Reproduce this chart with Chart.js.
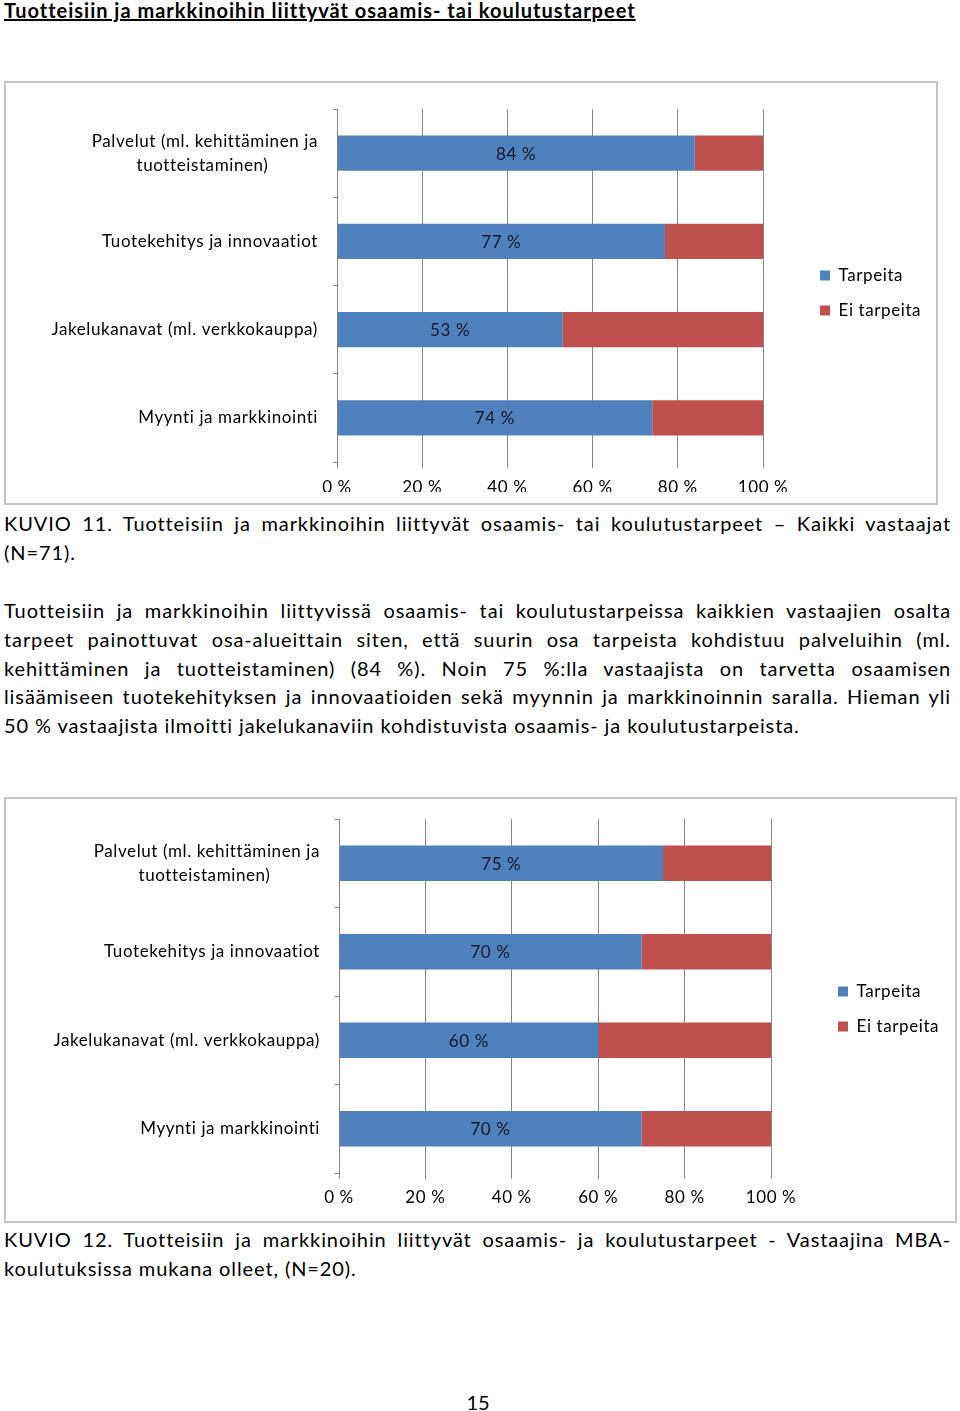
<!DOCTYPE html>
<html lang="fi">
<head>
<meta charset="utf-8">
<script src="https://cdn.jsdelivr.net/npm/chart.js@4.4.1/dist/chart.umd.min.js"></script>
<style>
  html, body { margin: 0; padding: 0; background: #fff; }
  body { position: relative; width: 960px; height: 1411px; font-family: Lato, "Open Sans", sans-serif; color: #000; }
  .abs { position: absolute; }
  .title { left: 4px; top: 0; font-size: 20px; font-weight: bold; line-height: 21px; letter-spacing: 1px; text-decoration: underline; }
  .para { left: 4px; width: 947px; font-size: 20px; letter-spacing: 0.9px; }
  .para div { text-align: justify; text-align-last: justify; }
  .para div.last { text-align: left; text-align-last: left; }
  .box { border: 2px solid #c4c4c4; box-sizing: border-box; }
  .box > div { position: relative; width: 100%; height: 100%; }
</style>
</head>
<body>

<div class="abs title">Tuotteisiin ja markkinoihin liittyvät osaamis- tai koulutustarpeet</div>

<div class="abs box" style="left:4px; top:81px; width:934px; height:424px;">
  <div><canvas id="chart1"></canvas></div>
</div>

<div class="abs para" style="top:509px; line-height:29px;">
  <div>KUVIO 11. Tuotteisiin ja markkinoihin liittyvät osaamis- tai koulutustarpeet – Kaikki vastaajat</div>
  <div class="last">(N=71).</div>
</div>

<div class="abs para" style="top:596px; line-height:28.75px;">
  <div>Tuotteisiin ja markkinoihin liittyvissä osaamis- tai koulutustarpeissa kaikkien vastaajien osalta</div>
  <div>tarpeet painottuvat osa-alueittain siten, että suurin osa tarpeista kohdistuu palveluihin (ml.</div>
  <div>kehittäminen ja tuotteistaminen) (84 %). Noin 75 %:lla vastaajista on tarvetta osaamisen</div>
  <div>lisäämiseen tuotekehityksen ja innovaatioiden sekä myynnin ja markkinoinnin saralla. Hieman yli</div>
  <div class="last">50 % vastaajista ilmoitti jakelukanaviin kohdistuvista osaamis- ja koulutustarpeista.</div>
</div>

<div class="abs box" style="left:4px; top:797px; width:953px; height:426px;">
  <div><canvas id="chart2"></canvas></div>
</div>

<div class="abs para" style="top:1225px; line-height:29px;">
  <div>KUVIO 12. Tuotteisiin ja markkinoihin liittyvät osaamis- ja koulutustarpeet - Vastaajina MBA-</div>
  <div class="last">koulutuksissa mukana olleet, (N=20).</div>
</div>

<div class="abs" style="left:0; width:956px; top:1391px; text-align:center; font-size:20px; line-height:22px;">15</div>

<script>
// category labels (top to bottom), first one wraps on two lines
var categories = [
    ["Palvelut (ml. kehittäminen ja", "tuotteistaminen)"],
    "Tuotekehitys ja innovaatiot",
    "Jakelukanavat (ml. verkkokauppa)",
    "Myynti ja markkinointi"
];
var seriesNames = ["Tarpeita", "Ei tarpeita"];
var xTicks = [0, 20, 40, 60, 80, 100];

// KUVIO 11, kaikki vastaajat (N=71)
var kaikkiTarpeita = [84, 77, 53, 74];
var kaikkiEiTarpeita = [16, 23, 47, 26];

// KUVIO 12, MBA-koulutuksissa mukana olleet (N=20)
var mbaTarpeita = [75, 70, 60, 70];
var mbaEiTarpeita = [25, 30, 40, 30];

var FONT = "Lato";
var GRID = "#868686";
var SPACING = "0.6px";   // Calibri-like width with Lato

// pad shorter lines of a wrapped label so the lines sit centred under each other
function centreLines(label) {
    if (!Array.isArray(label)) return label;
    var c = document.createElement("canvas").getContext("2d");
    c.font = "17px " + FONT;
    c.letterSpacing = SPACING;
    var widths = label.map(function (l) { return c.measureText(l).width; });
    var widest = Math.max.apply(null, widths);
    var sp = c.measureText(" ").width;
    return label.map(function (l, i) {
        var n = Math.round((widest - widths[i]) / 2 / sp);
        return l + " ".repeat(n);
    });
}

// a touch of letter spacing on the canvas text (measuring and drawing)
var spacing = {
    id: "spacing",
    beforeLayout: function (chart) { chart.ctx.letterSpacing = SPACING; },
    beforeDraw: function (chart) { chart.ctx.letterSpacing = SPACING; }
};

// "84 %" text in the middle of the blue part of each bar
var barLabels = {
    id: "barLabels",
    afterDatasetsDraw: function (chart) {
        var ctx = chart.ctx;
        var meta = chart.getDatasetMeta(0);
        var values = chart.data.datasets[0].data;
        ctx.save();
        ctx.font = "17px " + FONT;
        ctx.fillStyle = "#15172a";
        ctx.textAlign = "center";
        ctx.textBaseline = "middle";
        meta.data.forEach(function (bar, i) {
            ctx.fillText(values[i] + " %", (bar.x + bar.base) / 2, bar.y + 1);
        });
        ctx.restore();
    }
};

// fixed legend width and position (legend sits a bit away from the plot)
var legendPlace = {
    id: "legendPlace",
    beforeLayout: function (chart, args, opts) {
        var lg = chart.legend;
        if (lg && !lg._fixedFit) {
            var fit = lg.fit;
            lg.fit = function () { fit.call(this); this.width = opts.width; };
            lg._fixedFit = true;
        }
    },
    afterLayout: function (chart, args, opts) {
        var lg = chart.legend;
        lg.left = opts.x; lg.right = opts.x + lg.width;
        lg.top = opts.y; lg.bottom = opts.y + lg.height;
    }
};

function createChart(id, data1, data2, box) {
    var ctx = document.getElementById(id).getContext("2d");

    new Chart(ctx, {
        type: "bar",
        data: {
            labels: categories.map(centreLines),
            datasets: [{
                label: seriesNames[0],
                data: data1,
                backgroundColor: "#4f81bd",
                borderWidth: 0
            }, {
                label: seriesNames[1],
                data: data2,
                backgroundColor: "#c0504d",
                borderWidth: 0
            }]
        },
        plugins: [spacing, barLabels, legendPlace],
        options: {
            indexAxis: "y",
            responsive: true,
            maintainAspectRatio: false,
            animation: false,
            barPercentage: 0.4,
            categoryPercentage: 1.0,
            layout: {
                padding: { top: box.top, bottom: box.bottom, left: 0, right: 0 }
            },
            plugins: {
                legend: {
                    display: true,
                    position: "right",
                    align: "start",
                    labels: {
                        color: "#000",
                        font: { family: FONT, size: 17 },
                        boxWidth: 10,
                        boxHeight: 10,
                        padding: 18
                    }
                },
                legendPlace: { x: box.legendX, y: box.legendY, width: box.legendW },
                tooltip: { enabled: false }
            },
            scales: {
                x: {
                    stacked: true,
                    min: 0,
                    max: 100,
                    afterBuildTicks: function (s) {
                        s.ticks = xTicks.map(function (v) { return { value: v }; });
                    },
                    ticks: {
                        color: "#000",
                        font: { family: FONT, size: 17 },
                        padding: box.xPad,
                        maxRotation: 0,
                        callback: function (v) { return v + " %"; }
                    },
                    grid: { color: GRID, tickLength: 6 },
                    border: { display: false },
                    afterFit: function (s) {
                        s.height = 30;
                        s.paddingLeft = 0; s.paddingRight = 0;
                    }
                },
                y: {
                    stacked: true,
                    ticks: {
                        color: "#000",
                        font: { family: FONT, size: 17, lineHeight: 1.41 },
                        padding: 15,
                        autoSkip: false
                    },
                    grid: { offset: true, drawOnChartArea: false, color: GRID, tickLength: 4 },
                    border: { display: true, color: GRID },
                    afterFit: function (s) {
                        s.width = box.yWidth;
                        s.paddingTop = 0; s.paddingBottom = 0;
                    }
                }
            }
        }
    });
}

createChart("chart1", kaikkiTarpeita, kaikkiEiTarpeita,
    { top: 26, bottom: 11, yWidth: 331, legendW: 173, legendX: 796, legendY: 166, xPad: 9 });
createChart("chart2", mbaTarpeita, mbaEiTarpeita,
    { top: 20, bottom: 18, yWidth: 333, legendW: 184, legendX: 814, legendY: 166, xPad: 8 });
</script>
</body>
</html>
